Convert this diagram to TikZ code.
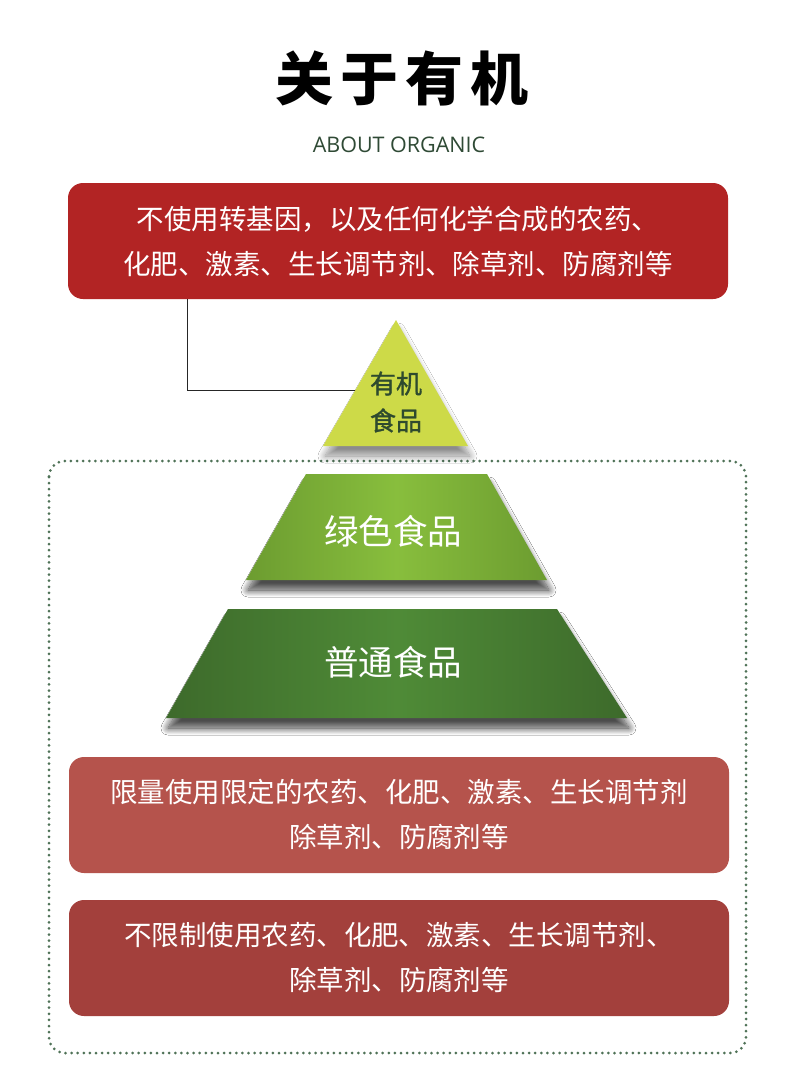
\documentclass[tikz,border=0pt]{standalone}
\usepackage{fontspec}
\setmainfont{Open Sans}
\newfontfamily\cjk{Noto Sans CJK SC}
\newfontfamily\cjkmed[FakeBold=1.2]{Noto Sans CJK SC}
\usetikzlibrary{shadows.blur}
\definecolor{redA}{HTML}{B22424}
\definecolor{redB}{HTML}{B5534C}
\definecolor{redC}{HTML}{A3403C}
\definecolor{triY}{HTML}{CDDA48}
\definecolor{gLmid}{HTML}{88BE3D}
\definecolor{gLedge}{HTML}{6C9C30}
\definecolor{gDmid}{HTML}{4F8B37}
\definecolor{gDedge}{HTML}{3D6A2B}
\definecolor{dotG}{HTML}{4F7257}
\definecolor{engG}{HTML}{2F4A35}
\definecolor{txtG}{HTML}{2E4A2E}
\begin{document}
\begin{tikzpicture}[x=1pt,y=-1pt,
  infobox/.style={minimum width=660pt,minimum height=116pt,rounded corners=15pt,inner sep=0pt,text=white,align=center,font=\cjk\fontsize{27.5}{45}\selectfont},
  shade/.style={blur shadow={shadow xshift=2pt,shadow yshift=-10pt,shadow blur radius=7pt,shadow blur steps=14,shadow opacity=45}},
  lvltext/.style={text=white,font=\cjk\fontsize{34.5}{40}\selectfont}]
\useasboundingbox (0,0) rectangle (790,1080);
\fill[white] (0,0) rectangle (790,1080);
% title
\node[font=\cjk\bfseries\fontsize{58}{60}\selectfont] (title) at (402,78) {关\hspace{7pt}于\hspace{7pt}有\hspace{7pt}机};
\node[font=\fontsize{21.5}{24}\selectfont,text=engG] (sub) at (399,145) {ABOUT ORGANIC};
% dotted frame
\draw[dotG,line width=3pt,line cap=round,dash pattern=on 0pt off 6.1pt,rounded corners=16pt] (49,461) rectangle (746,1053);
% top box
\node[infobox,fill=redA] (top) at (398,241) {不使用转基因，以及任何化学合成的农药、\\化肥、激素、生长调节剂、除草剂、防腐剂等};
% connector
\coordinate (tri) at (357,390);
\draw[black!85,line width=1pt] (top.south -| 187,0) |- (tri);
% triangle
\fill[triY,shade] (396,320) -- (468,446) -- (323,446) -- cycle;
\node[text=txtG,font=\cjkmed\fontsize{26}{37}\selectfont,align=center] (org) at (396,402) {有机\\食品};
% green trapezoid
\shade[shade,shading=axis,left color=gLedge,right color=gLedge,middle color=gLmid,shading angle=90] (306,474) -- (487,474) -- (547,580) -- (246,580) -- cycle;
\node[lvltext] (green) at (393,531) {绿色食品};
% dark trapezoid
\shade[shade,shading=axis,left color=gDedge,right color=gDedge,middle color=gDmid,shading angle=90] (228,609) -- (557,609) -- (627,718) -- (166,718) -- cycle;
\node[lvltext] (normal) at (393,662) {普通食品};
% bottom boxes
\node[infobox,fill=redB] (mid) at (399,815) {限量使用限定的农药、化肥、激素、生长调节剂\\除草剂、防腐剂等};
\node[infobox,fill=redC] (bot) at (399,958) {不限制使用农药、化肥、激素、生长调节剂、\\除草剂、防腐剂等};
\end{tikzpicture}
\end{document}
